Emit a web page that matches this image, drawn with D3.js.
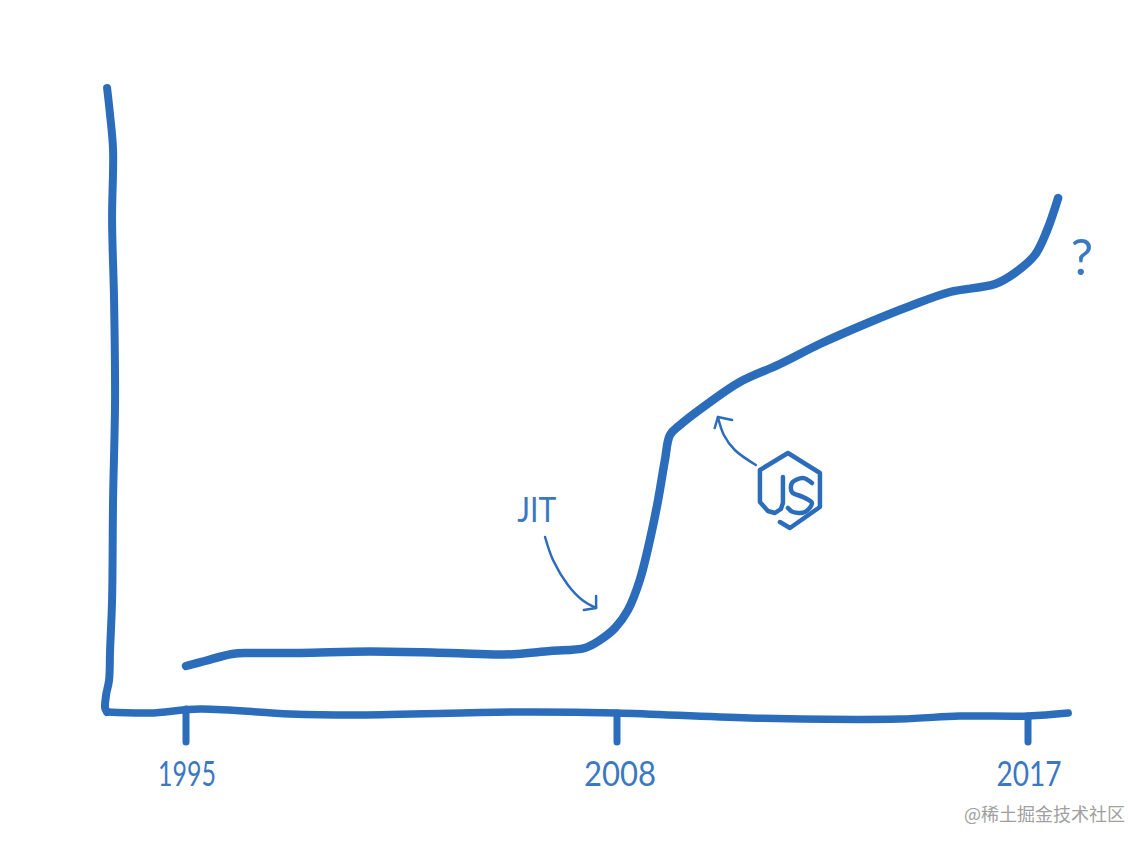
<!DOCTYPE html>
<html><head><meta charset="utf-8">
<style>html,body{margin:0;padding:0;background:#fff;overflow:hidden}</style>
<script src="https://cdn.jsdelivr.net/npm/d3@7/dist/d3.min.js"></script>
</head><body><svg id="c" width="1148" height="848"></svg>
<script>
// years and relative performance
const years = [1995,1995.57,1996.39,1996.93,1998.44,2000.55,2002.96,2004.62,2005.98,2007.03,2007.49,2007.94,2008.24,2008.5,2008.72,2008.9,2009.05,2009.16,2009.38,2010.04,2010.69,2011.57,2012.44,2013.54,2014.42,2015.29,2016.28,2016.71,2017.15,2017.42,2017.66];
const values = [7.52,8.32,9.44,9.6,9.6,9.84,9.6,9.36,9.92,10.4,11.68,13.6,16.48,21.28,27.68,34.08,40.48,44.48,46.08,49.76,52.96,55.84,59.04,62.56,65.12,67.36,68.64,70.4,73.28,77.28,82.4];
const tickYears = [1995,2008,2017];
const tickBottoms = [-4.64,-4.64,-4.64];
const tickTops = [0.64,0,-0.48];
const axisYX = [1992.62,1992.71,1992.8,1992.77,1992.83,1992.86,1992.8,1992.77,1992.71,1992.68,1992.59,1992.56,1992.62];
const axisYV = [100,95.68,90.08,78.88,66.08,50.08,34.08,18.08,10.08,5.28,2.88,0.8,0.16];
const axisXX = [1992.62,1993.91,1995.42,1998.14,2000.25,2005.08,2008,2010.91,2014.19,2015.5,2017,2017.88];
const axisXV = [0.16,0,0.64,-0.16,-0.32,0.16,0,-0.8,-0.96,-0.48,-0.48,0];
const jitArrowX = [2005.83,2006.07,2006.52,2006.95,2007.37];
const jitArrowV = [28.16,24.48,20.48,18.08,16.8];
const jitHeadX = [2007.37,2007.37,2007.0];
const jitHeadV = [18.72,16.8,16.48];
const jsArrowX = [2011.04,2010.58,2010.34,2010.21];
const jsArrowV = [39.68,42.08,44.48,47.36];
const jsHeadX = [2010.14,2010.21,2010.52];
const jsHeadV = [45.6,47.36,46.88];

const color = "#2c6dbb", textColor = "#3a78c2";
const x = d3.scaleLinear().domain([1995,2008,2017]).range([186,617,1028]);
const y = d3.scaleLinear().domain([0,100]).range([713,88]);
const svg = d3.select("#c");
const zip = (a,b)=>a.map((d,i)=>[d,b[i]]);
const line = d3.line().x(d=>x(d[0])).y(d=>y(d[1])).curve(d3.curveCatmullRom.alpha(0.5));
const straight = d3.line().x(d=>x(d[0])).y(d=>y(d[1]));
function stroke(d,w,gen){
  return svg.append("path").attr("d",(gen||line)(d)).attr("fill","none").attr("stroke",color)
    .attr("stroke-width",w).attr("stroke-linecap","round").attr("stroke-linejoin","round");
}
stroke(zip(axisYX,axisYV),8);
stroke(zip(axisXX,axisXV),7.5);
tickYears.forEach((t,i)=>stroke([[t,tickTops[i]],[t,tickBottoms[i]]],7,straight));
stroke(zip(years,values),8.5);
stroke(zip(jitArrowX,jitArrowV),2.5);
stroke(zip(jitHeadX,jitHeadV),2.5,straight);
stroke(zip(jsArrowX,jsArrowV),2.5);
stroke(zip(jsHeadX,jsHeadV),2.5,straight);

// Node.js logo, local units anchored on the chart scales
const logoOuter = [[23,24],[23,50],[21,56],[15,60],[8,58],[0,49],[0,17],[28,0],[60,20],[60,54],[30,75],[20,69]];
const logoS = [[52,30],[43,25],[32,30],[32,39],[43,44],[52,50],[45,59],[33,59],[28,55]];
const lx = d3.scaleLinear().domain([0,60]).range([x(2011.13),x(2011.13)+60]);
const ly = d3.scaleLinear().domain([0,75]).range([y(41.6),y(41.6)+75]);
const logoLine = d3.line().x(d=>lx(d[0])).y(d=>ly(d[1]));
[[logoOuter,d3.curveLinear],[logoS,d3.curveCatmullRom]].forEach(([p,c])=>{
  svg.append("path").attr("d",logoLine.curve(c)(p)).attr("fill","none").attr("stroke",color)
    .attr("stroke-width",4.5).attr("stroke-linecap","round").attr("stroke-linejoin","round");
});

const font = '"Lato",sans-serif';
function label(txt,px,py,size,len,weight){
  const t = svg.append("text").text(txt).attr("x",px).attr("y",py).attr("text-anchor","middle")
    .attr("font-family",font).attr("font-size",size).attr("font-weight",weight||400).attr("fill",textColor);
  if(len) t.attr("textLength",len).attr("lengthAdjust","spacingAndGlyphs");
  return t;
}
const tickLen = [58,72,65], tickShift = [1,3,1];
tickYears.forEach((t,i)=>label(String(t),x(t)+tickShift[i],786,35,tickLen[i]));
label("JIT",x(2005.58),522,34,39);
label("?",x(2018.18),275,50);
svg.append("text").text("@稀土掘金技术社区").attr("x",1125).attr("y",821).attr("text-anchor","end")
  .attr("font-family",'"Noto Sans CJK SC",sans-serif').attr("font-size",18).attr("fill","#a0a0a0");
</script></body></html>
